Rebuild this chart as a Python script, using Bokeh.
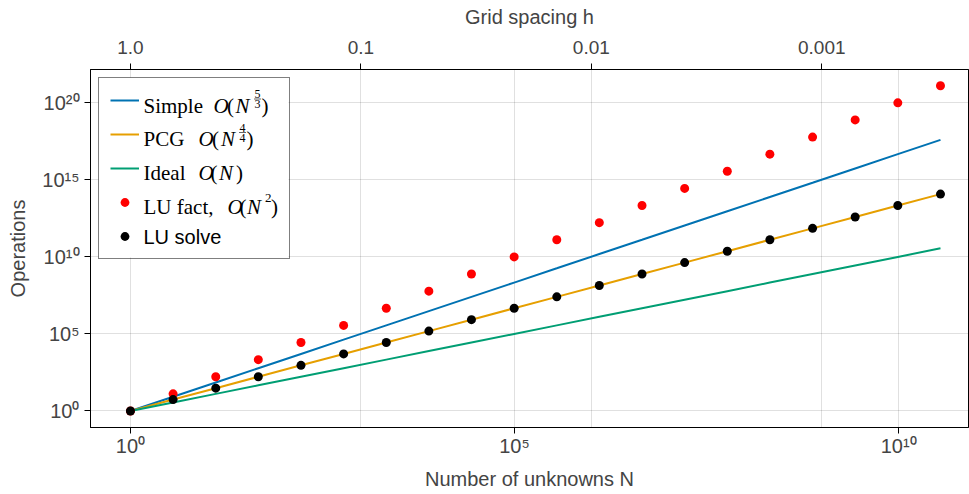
from bokeh.plotting import figure
from bokeh.models import (Range1d, LogScale, LogAxis, FixedTicker, CustomJSTickFormatter,
                          Legend, LegendItem, Label, BoxAnnotation)
from bokeh.embed import file_html
from bokeh.resources import INLINE

# ---------------- data ----------------
N = [1, 3.59, 12.9, 46.2, 166, 596, 2140, 7670, 2.75e4, 9.89e4, 3.55e5, 1.27e6,
     4.57e6, 1.64e7, 5.89e7, 2.11e8, 7.59e8, 2.72e9, 9.77e9, 3.51e10]
simple_ops = [1, 8.41, 70.8, 596, 5010, 4.22e4, 3.55e5, 2.99e6, 2.51e7, 2.11e8, 1.78e9,
              1.50e10, 1.26e11, 1.06e12, 8.91e12, 7.50e13, 6.31e14, 5.31e15, 4.47e16, 3.76e17]
pcg_ops = [1, 5.50, 30.2, 166, 912, 5010, 2.75e4, 1.51e5, 8.32e5, 4.57e6, 2.51e7, 1.38e8,
           7.59e8, 4.17e9, 2.29e10, 1.26e11, 6.92e11, 3.80e12, 2.09e13, 1.15e14]
ideal_ops = [1, 3.59, 12.9, 46.2, 166, 596, 2140, 7670, 2.75e4, 9.89e4, 3.55e5, 1.27e6,
             4.57e6, 1.64e7, 5.89e7, 2.11e8, 7.59e8, 2.72e9, 9.77e9, 3.51e10]
lu_fact_ops = [1, 12.9, 166, 2140, 2.75e4, 3.55e5, 4.57e6, 5.89e7, 7.59e8, 9.77e9, 1.26e11,
               1.62e12, 2.09e13, 2.69e14, 3.47e15, 4.47e16, 5.75e17, 7.41e18, 9.55e19, 1.23e21]
lu_solve_ops = [1, 5.50, 30.2, 166, 912, 5010, 2.75e4, 1.51e5, 8.32e5, 4.57e6, 2.51e7, 1.38e8,
                7.59e8, 4.17e9, 2.29e10, 1.26e11, 6.92e11, 3.80e12, 2.09e13, 1.15e14]

x_ticks = [1, 1e5, 1e10]
y_ticks = [1, 1e5, 1e10, 1e15, 1e20]
h_ticks = [1.0, 0.1, 0.01, 0.001]
h_grid_N = [1e3, 1e6, 1e9]          # N positions of the h ticks (h = N^(-1/3))

BLUE, ORANGE, GREEN = "#0072B2", "#E69F00", "#009E73"
SANS, SERIF = "Liberation Sans", "Liberation Serif"

x_lo, x_hi = 10 ** -0.52, 10 ** 10.91
y_lo, y_hi = 10 ** -1.07, 10 ** 22.14

p = figure(width=969, height=494, x_axis_type="log", y_axis_type="log",
           x_range=Range1d(x_lo, x_hi), y_range=Range1d(y_lo, y_hi),
           output_backend="svg", toolbar_location=None,
           min_border_left=90, min_border_right=1, min_border_top=69, min_border_bottom=67)

p.extra_x_ranges = {"h": Range1d(x_lo ** (-1 / 3), x_hi ** (-1 / 3))}
p.extra_x_scales = {"h": LogScale()}

p.outline_line_color = "black"
p.outline_line_width = 1
p.background_fill_color = "white"
p.border_fill_color = "white"

sup_code = """
const sup = {"0":"\u2070","1":"\u00b9","2":"\u00b2","3":"\u00b3","4":"\u2074","5":"\u2075",
             "6":"\u2076","7":"\u2077","8":"\u2078","9":"\u2079","-":"\u207b"};
const e = Math.round(Math.log10(tick));
return "10" + String(e).split("").map(c => sup[c]).join("");
"""

def style_axis(ax, label, ticks, formatter):
    ax.ticker = FixedTicker(ticks=ticks)
    ax.formatter = formatter
    ax.axis_label = label
    ax.axis_label_text_font = SANS
    ax.axis_label_text_font_size = "20px"
    ax.axis_label_text_font_style = "normal"
    ax.major_label_text_font = SANS
    ax.major_label_text_font_size = "20px"
    ax.major_tick_out = 6
    ax.major_tick_in = 0
    ax.minor_tick_line_color = None
    ax.axis_line_color = "black"
    ax.major_tick_line_color = "black"

style_axis(p.xaxis[0], "Number of unknowns N", x_ticks, CustomJSTickFormatter(code=sup_code))
style_axis(p.yaxis[0], "Operations", y_ticks, CustomJSTickFormatter(code=sup_code))
p.xaxis[0].major_label_standoff = 1
p.xaxis[0].axis_label_standoff = 8
p.yaxis[0].major_label_standoff = 5
p.yaxis[0].axis_label_standoff = 10

top = LogAxis(x_range_name="h")
style_axis(top, "Grid spacing h", h_ticks,
           CustomJSTickFormatter(code="return tick >= 1 ? tick.toFixed(1) : String(tick);"))
top.major_label_text_font_size = "19px"
top.major_label_standoff = 10
top.axis_label_standoff = 10
p.add_layout(top, "above")

p.xgrid.ticker = FixedTicker(ticks=x_ticks + h_grid_N)
p.ygrid.ticker = FixedTicker(ticks=y_ticks)
for g in (p.xgrid[0], p.ygrid[0]):
    g.grid_line_color = "black"
    g.grid_line_alpha = 0.12
    g.grid_line_width = 1

# page-pixel geometry of the frame (for the hand-set legend texts)
FL, FB = 90, 427   # frame left / bottom in page pixels

# opaque white backing of the legend box (hides the grid), drawn under the glyphs
p.add_layout(BoxAnnotation(left=98 - FL, right=288 - FL, top=FB - 77, bottom=FB - 257,
                           left_units="screen", right_units="screen",
                           top_units="screen", bottom_units="screen",
                           fill_color="white", fill_alpha=1.0, line_color=None,
                           level="underlay"))

r_simple = p.line(N, simple_ops, line_color=BLUE, line_width=2)
r_pcg = p.line(N, pcg_ops, line_color=ORANGE, line_width=2)
r_ideal = p.line(N, ideal_ops, line_color=GREEN, line_width=2)
r_fact = p.scatter(N, lu_fact_ops, size=9, fill_color="red", line_color=None)
r_solve = p.scatter(N, lu_solve_ops, size=9, fill_color="black", line_color=None)

legend = Legend(items=[LegendItem(label=" ", renderers=[r]) for r in
                       (r_simple, r_pcg, r_ideal, r_fact, r_solve)],
                location="top_left", margin=8, padding=11, spacing=12,
                glyph_width=29, glyph_height=22, label_height=22, label_width=133,
                label_standoff=6, label_text_font_size="10px",
                border_line_color="black", border_line_width=1.2,
                background_fill_alpha=0.0)
p.add_layout(legend)

def txt(x, yc, s, size=21, style="normal", font=SERIF, align="left"):
    # yc: vertical centre of the text in page pixels
    p.add_layout(Label(x=x - FL, y=FB - yc, x_units="screen", y_units="screen", text=s,
                       text_font=font, text_font_size=f"{size}px", text_font_style=style,
                       text_align=align, text_baseline="middle", text_color="black",
                       level="overlay"))

def frac(xc, c, num, den):
    # c: centre of the main text line
    txt(xc, c - 11.5, num, size=12, align="center")
    txt(xc, c - 1.5, den, size=12, align="center")
    p.add_layout(BoxAnnotation(left=xc - 3.5 - FL, right=xc + 3.5 - FL,
                               top=FB - (c - 6.9), bottom=FB - (c - 6.1),
                               left_units="screen", right_units="screen",
                               top_units="screen", bottom_units="screen",
                               fill_color="black", fill_alpha=0.6, line_color=None,
                               level="overlay"))

# row 1
c = 105
txt(143, c, "Simple"); txt(213, c, "O", style="italic"); txt(226.5, c, "(")
txt(235, c, "N", style="italic"); frac(257, c, "5", "3"); txt(261, c, ")")
# row 2
c = 138.5
txt(143, c, "PCG"); txt(198, c, "O", style="italic"); txt(211.5, c, "(")
txt(220.5, c, "N", style="italic"); frac(242, c, "4", "4"); txt(246, c, ")")
# row 3
c = 172
txt(143, c, "Ideal"); txt(198, c, "O", style="italic"); txt(210, c, "(")
txt(218.5, c, "N", style="italic"); txt(235.5, c, ")")
# row 4
c = 206
txt(143, c, "LU fact,"); txt(227, c, "O", style="italic"); txt(239, c, "(")
txt(246.5, c, "N", style="italic"); txt(264.5, c - 9, "2", size=13); txt(270.5, c, ")")
# row 5
txt(143, 236, "LU solve", size=20, font=SANS)

open("out.html", "w").write(file_html(p, INLINE))
